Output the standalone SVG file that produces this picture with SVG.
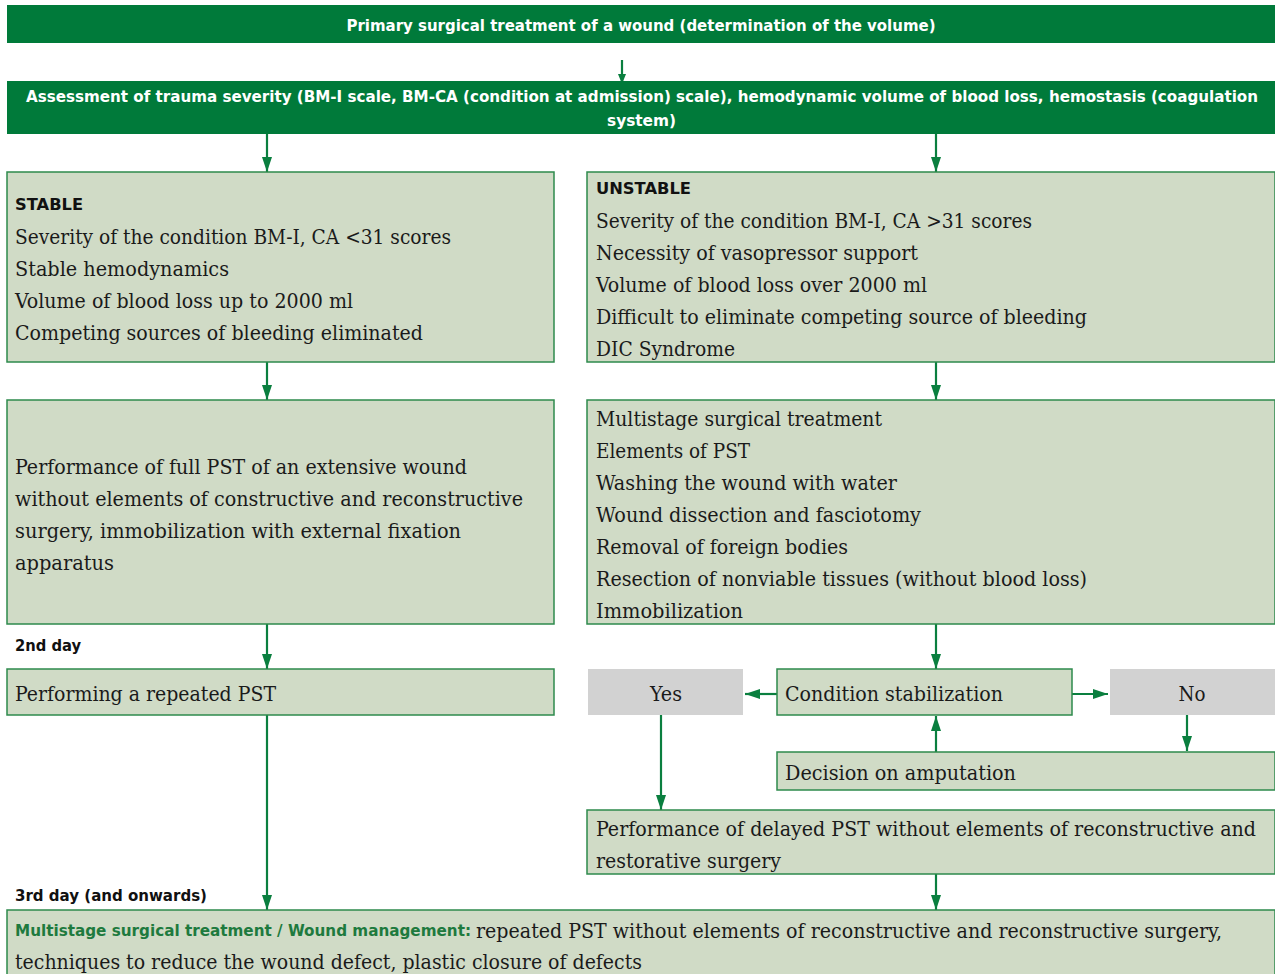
<svg xmlns="http://www.w3.org/2000/svg" width="1275" height="974" viewBox="0 0 1275 974">
<style>
.bar{fill:#007a3a}
.box{fill:#d0dbc6;stroke:#2e8a4c;stroke-width:1.5}
.gray{fill:#d2d2d2}
.hw{font-family:"DejaVu Sans Condensed","DejaVu Sans",sans-serif;font-weight:bold;font-size:15px;fill:#ffffff}
.hd{font-family:"DejaVu Sans","Liberation Sans",sans-serif;font-weight:900;font-size:16px;fill:#111}
.hdc{font-family:"DejaVu Sans Condensed","DejaVu Sans",sans-serif;font-weight:bold;font-size:16px;fill:#111}
.t{font-family:"DejaVu Serif Condensed","DejaVu Serif","Liberation Serif",serif;font-size:20px;fill:#1a1a1a}
.g{font-family:"DejaVu Sans Condensed","DejaVu Sans",sans-serif;font-weight:bold;font-size:16px;fill:#1e7a3e}
.c{fill:none;stroke:#0a7f3f;stroke-width:2.2}
</style>
<defs>
<marker id="ah" viewBox="0 0 15 10" refX="15" refY="5" markerWidth="15" markerHeight="10" markerUnits="userSpaceOnUse" orient="auto"><path d="M0,0 L15,5 L0,10 z" fill="#0a7f3f"/></marker>
<marker id="ahs" viewBox="0 0 10 8" refX="10" refY="4" markerWidth="10" markerHeight="8" markerUnits="userSpaceOnUse" orient="auto"><path d="M0,0 L10,4 L0,8 z" fill="#0a7f3f"/></marker>
</defs>

<g id="connectors">
<path class="c" d="M622,60 V84" marker-end="url(#ahs)"/>
<path class="c" d="M267,134 V172" marker-end="url(#ah)"/>
<path class="c" d="M936,134 V172" marker-end="url(#ah)"/>
<path class="c" d="M267,362 V400" marker-end="url(#ah)"/>
<path class="c" d="M936,362 V400" marker-end="url(#ah)"/>
<path class="c" d="M267,624 V669" marker-end="url(#ah)"/>
<path class="c" d="M936,624 V669" marker-end="url(#ah)"/>
<path class="c" d="M777,694 H745" marker-end="url(#ah)"/>
<path class="c" d="M1072,694 H1108" marker-end="url(#ah)"/>
<path class="c" d="M936,752 V716" marker-end="url(#ah)"/>
<path class="c" d="M1187,715 V751" marker-end="url(#ah)"/>
<path class="c" d="M661,715 V810" marker-end="url(#ah)"/>
<path class="c" d="M267,715 V910" marker-end="url(#ah)"/>
<path class="c" d="M936,874 V910" marker-end="url(#ah)"/>
</g>

<g id="n-primary">
<rect class="bar" x="7" y="5" width="1268" height="38"/>
<text class="hw" x="641" y="31" text-anchor="middle" textLength="589" lengthAdjust="spacingAndGlyphs">Primary surgical treatment of a wound (determination of the volume)</text>
</g>

<g id="n-assessment">
<rect class="bar" x="7" y="81" width="1268" height="53"/>
<text class="hw" x="26" y="102" textLength="1232" lengthAdjust="spacingAndGlyphs">Assessment of trauma severity (BM-I scale, BM-CA (condition at admission) scale), hemodynamic volume of blood loss, hemostasis (coagulation</text>
<text class="hw" x="607" y="126" textLength="69" lengthAdjust="spacingAndGlyphs">system)</text>
</g>

<g id="n-stable">
<rect class="box" x="7" y="172" width="547" height="190"/>
<text class="hd" x="15" y="210" textLength="68" lengthAdjust="spacingAndGlyphs">STABLE</text>
<text class="t" x="15" y="244" textLength="436" lengthAdjust="spacingAndGlyphs">Severity of the condition BM-I, CA &lt;31 scores</text>
<text class="t" x="15" y="276" textLength="214" lengthAdjust="spacingAndGlyphs">Stable hemodynamics</text>
<text class="t" x="15" y="308" textLength="338" lengthAdjust="spacingAndGlyphs">Volume of blood loss up to 2000 ml</text>
<text class="t" x="15" y="340" textLength="408" lengthAdjust="spacingAndGlyphs">Competing sources of bleeding eliminated</text>
</g>

<g id="n-unstable">
<rect class="box" x="587" y="172" width="688" height="190"/>
<text class="hd" x="596" y="194" textLength="95" lengthAdjust="spacingAndGlyphs">UNSTABLE</text>
<text class="t" x="596" y="228" textLength="436" lengthAdjust="spacingAndGlyphs">Severity of the condition BM-I, CA &gt;31 scores</text>
<text class="t" x="596" y="260" textLength="322" lengthAdjust="spacingAndGlyphs">Necessity of vasopressor support</text>
<text class="t" x="596" y="292" textLength="331" lengthAdjust="spacingAndGlyphs">Volume of blood loss over 2000 ml</text>
<text class="t" x="596" y="324" textLength="491" lengthAdjust="spacingAndGlyphs">Difficult to eliminate competing source of bleeding</text>
<text class="t" x="596" y="356" textLength="139" lengthAdjust="spacingAndGlyphs">DIC Syndrome</text>
</g>

<g id="n-fullpst">
<rect class="box" x="7" y="400" width="547" height="224"/>
<text class="t" x="15" y="474" textLength="452" lengthAdjust="spacingAndGlyphs">Performance of full PST of an extensive wound</text>
<text class="t" x="15" y="506" textLength="508" lengthAdjust="spacingAndGlyphs">without elements of constructive and reconstructive</text>
<text class="t" x="15" y="538" textLength="446" lengthAdjust="spacingAndGlyphs">surgery, immobilization with external fixation</text>
<text class="t" x="15" y="570" textLength="99" lengthAdjust="spacingAndGlyphs">apparatus</text>
</g>

<g id="n-multistage">
<rect class="box" x="587" y="400" width="688" height="224"/>
<text class="t" x="596" y="426" textLength="286" lengthAdjust="spacingAndGlyphs">Multistage surgical treatment</text>
<text class="t" x="596" y="458" textLength="154" lengthAdjust="spacingAndGlyphs">Elements of PST</text>
<text class="t" x="596" y="490" textLength="301" lengthAdjust="spacingAndGlyphs">Washing the wound with water</text>
<text class="t" x="596" y="522" textLength="325" lengthAdjust="spacingAndGlyphs">Wound dissection and fasciotomy</text>
<text class="t" x="596" y="554" textLength="252" lengthAdjust="spacingAndGlyphs">Removal of foreign bodies</text>
<text class="t" x="596" y="586" textLength="491" lengthAdjust="spacingAndGlyphs">Resection of nonviable tissues (without blood loss)</text>
<text class="t" x="596" y="618" textLength="147" lengthAdjust="spacingAndGlyphs">Immobilization</text>
</g>

<g id="l-2nd-day">
<text class="hdc" x="15" y="651" textLength="66" lengthAdjust="spacingAndGlyphs">2nd day</text>
</g>

<g id="n-repeated">
<rect class="box" x="7" y="669" width="547" height="46"/>
<text class="t" x="15" y="701" textLength="261" lengthAdjust="spacingAndGlyphs">Performing a repeated PST</text>
</g>

<g id="n-yes">
<rect class="gray" x="588" y="669" width="155" height="46"/>
<text class="t" x="666" y="701" text-anchor="middle" textLength="32" lengthAdjust="spacingAndGlyphs">Yes</text>
</g>

<g id="n-stabilization">
<rect class="box" x="777" y="669" width="295" height="46"/>
<text class="t" x="785" y="701" textLength="218" lengthAdjust="spacingAndGlyphs">Condition stabilization</text>
</g>

<g id="n-no">
<rect class="gray" x="1110" y="669" width="165" height="46"/>
<text class="t" x="1192" y="701" text-anchor="middle" textLength="27" lengthAdjust="spacingAndGlyphs">No</text>
</g>

<g id="n-amputation">
<rect class="box" x="777" y="752" width="498" height="38"/>
<text class="t" x="785" y="780" textLength="231" lengthAdjust="spacingAndGlyphs">Decision on amputation</text>
</g>

<g id="n-delayed">
<rect class="box" x="587" y="810" width="688" height="64"/>
<text class="t" x="596" y="836" textLength="660" lengthAdjust="spacingAndGlyphs">Performance of delayed PST without elements of reconstructive and</text>
<text class="t" x="596" y="868" textLength="185" lengthAdjust="spacingAndGlyphs">restorative surgery</text>
</g>

<g id="l-3rd-day">
<text class="hdc" x="15" y="901" textLength="192" lengthAdjust="spacingAndGlyphs">3rd day (and onwards)</text>
</g>

<g id="n-wound-management">
<rect class="box" x="7" y="910" width="1268" height="70"/>
<text class="g" x="15" y="936" textLength="456" lengthAdjust="spacingAndGlyphs">Multistage surgical treatment / Wound management:</text>
<text class="t" x="476" y="938" textLength="746" lengthAdjust="spacingAndGlyphs">repeated PST without elements of reconstructive and reconstructive surgery,</text>
<text class="t" x="15" y="969" textLength="627" lengthAdjust="spacingAndGlyphs">techniques to reduce the wound defect, plastic closure of defects</text>
</g>
</svg>
